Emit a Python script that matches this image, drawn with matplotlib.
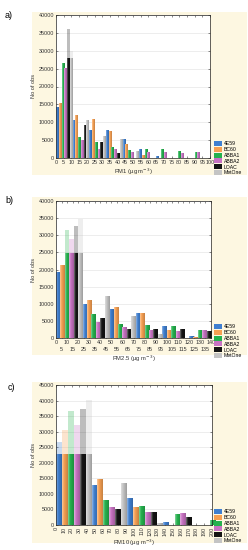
import numpy as np
import matplotlib
matplotlib.use("Agg")
import matplotlib.pyplot as plt
from matplotlib.patches import Patch, Rectangle
from matplotlib.colors import to_rgb

plt.rcParams['font.family'] = ['Liberation Sans', 'DejaVu Sans']

series = ['4E59', 'BC60', 'ABBA1', 'ABBA2', 'LOAC', 'MetOne']
colors = ['#3f7fd0', '#f7a052', '#25b24e', '#c873c3', '#141414', '#c4c4c4']

# PM1 panel (a)
pm1_4E59 = [14400, 10500, 7900, 7900, 5200, 2600, 500, 0, 0]
pm1_BC60 = [15500, 12100, 10900, 7500, 4000, 900, 100, 0, 0]
pm1_ABBA1 = [26700, 6000, 4400, 3200, 2300, 2400, 2400, 2000, 1800]
pm1_ABBA2 = [25200, 5100, 2600, 2400, 1600, 1600, 1600, 1500, 1800]
pm1_LOAC = [36000, 9200, 4400, 1500, 100, 0, 0, 0, 0]
pm1_MetOne = [30000, 10500, 6200, 5400, 1900, 0, 0, 0, 0]

# PM2.5 panel (b)
pm25_4E59 = [19200, 10000, 8500, 7300, 3600, 700]
pm25_BC60 = [21300, 11100, 9000, 7300, 2400, 300]
pm25_ABBA1 = [31400, 7000, 4100, 3900, 3500, 2400]
pm25_ABBA2 = [28800, 4700, 3200, 2200, 2100, 2200]
pm25_LOAC = [32800, 5800, 2700, 2600, 2600, 1900]
pm25_MetOne = [34600, 12300, 6500, 1300, 100, 0]

# PM10 panel (c)
pm10_4E59 = [26700, 12900, 8700, 1100, 100]
pm10_BC60 = [30500, 14700, 5800, 100, 100]
pm10_ABBA1 = [36500, 8000, 6100, 3500, 1500]
pm10_ABBA2 = [32000, 5800, 4300, 4000, 0]
pm10_LOAC = [37300, 5100, 4200, 2700, 0]
pm10_MetOne = [40200, 13600, 750, 0, 0]

panels = [
    dict(label='a)', data=[pm1_4E59, pm1_BC60, pm1_ABBA1, pm1_ABBA2, pm1_LOAC, pm1_MetOne],
         cut=28000, width=1.8, xmax=100, ymax=40000, xlabel='PM1 (µg m$^{-3}$)',
         bg=(32, 12, 247, 175), ax=(56, 15, 210, 158), leg=(214, 141), lab=(5, 11)),
    dict(label='b)', data=[pm25_4E59, pm25_BC60, pm25_ABBA1, pm25_ABBA2, pm25_LOAC, pm25_MetOne],
         cut=24700, width=4.0, xmax=140, ymax=40000, xlabel='PM2.5 (µg m$^{-3}$)',
         bg=(32, 197, 247, 355), ax=(56, 201, 211, 338), leg=(214, 324), lab=(5, 196)),
    dict(label='c)', data=[pm10_4E59, pm10_BC60, pm10_ABBA1, pm10_ABBA2, pm10_LOAC, pm10_MetOne],
         cut=22700, width=7.6, xmax=200, ymax=45000, xlabel='PM10 (µg m$^{-3}$)',
         bg=(32, 382, 247, 543), ax=(56, 385, 212, 525), leg=(214, 509), lab=(8, 383)),
]

W, H = 248, 550
fig = plt.figure(figsize=(W / 100, H / 100), dpi=100)
fig.patch.set_facecolor('white')

def fx(px):
    return px / W

def fy(py):
    return 1 - py / H

grad = np.linspace(0, 1, 64)[None, :]

for p in panels:
    x0, y0, x1, y1 = p['bg']
    fig.add_artist(Rectangle((fx(x0), fy(y1)), fx(x1 - x0), (y1 - y0) / H,
                             transform=fig.transFigure, facecolor='#fdf7e1',
                             edgecolor='none', zorder=0))
    a0, b0, a1, b1 = p['ax']
    ax = fig.add_axes([fx(a0), fy(b1), fx(a1 - a0), (b1 - b0) / H])
    ax.set_facecolor('white')
    w = p['width']
    cut = p['cut']
    ng = len(p['data'][0])
    for s, (vals, col) in enumerate(zip(p['data'], colors)):
        vals = np.array(vals, dtype=float)
        xs = (np.arange(ng) * 6 + s) * w
        solid = np.minimum(vals, cut)
        bars = ax.bar(xs, solid, width=w, align='edge', color=col,
                      edgecolor='none', zorder=2)
        # subtle horizontal shading on each bar
        rgb = np.array(to_rgb(col))
        light = rgb + (1 - rgb) * 0.45
        dark = rgb * 0.8
        t = grad[0]
        img = np.where(t[:, None] < 0.35,
                       light + (rgb - light) * (t[:, None] / 0.35),
                       rgb + (dark - rgb) * ((t[:, None] - 0.35) / 0.65))
        img = img[None, :, :]
        for bar in bars:
            if bar.get_height() <= 0:
                continue
            bx, bw, bh = bar.get_x(), bar.get_width(), bar.get_height()
            im = ax.imshow(img, extent=(bx, bx + bw, 0, bh), aspect='auto',
                           interpolation='bilinear', zorder=2.5)
            im.set_clip_path(bar)
        over = vals > cut
        ax.bar(xs[over], (vals - cut)[over], bottom=cut, width=w, align='edge',
               color=col, alpha=0.28, edgecolor='none', zorder=2)
    ax.set_xlim(0, p['xmax'])
    ax.set_ylim(0, p['ymax'])
    ax.set_yticks(np.arange(0, p['ymax'] + 1, 5000))
    ax.set_yticklabels([str(v) for v in range(0, p['ymax'] + 1, 5000)])
    ax.grid(axis='y', color='#e6e6e6', linewidth=0.5, zorder=0)
    ax.set_axisbelow(True)
    for sp in ax.spines.values():
        sp.set_linewidth(0.5)
        sp.set_color('#222222')
    ax.tick_params(axis='both', which='both', direction='in', length=1.5, width=0.4,
                   labelsize=3.9, pad=1.2, top=True, right=True, colors='#333333')
    if p['label'] == 'a)':
        ax.set_xticks(np.arange(0, 101, 5))
        ax.set_xticklabels([str(v) for v in range(0, 101, 5)])
    elif p['label'] == 'b)':
        ax.set_xticks(np.arange(0, 141, 10))
        ax.set_xticklabels([str(v) for v in range(0, 141, 10)])
        ax.set_xticks(np.arange(5, 140, 10), minor=True)
        ax.set_xticklabels([str(v) for v in range(5, 140, 10)], minor=True)
        ax.tick_params(axis='x', which='minor', pad=6.2)
    else:
        ax.set_xticks(np.arange(0, 201, 10))
        ax.set_xticklabels([str(v) for v in range(0, 201, 10)], rotation=90)
    ax.set_ylabel('No of obs', fontsize=4.0, labelpad=2, color='#333333')
    ax.set_xlabel(p['xlabel'], fontsize=4.2, labelpad=1.5, color='#333333')
    fig.text(fx(p['lab'][0]), fy(p['lab'][1]), p['label'], fontsize=6.5,
             va='top', ha='left')
    handles = [Patch(facecolor=c, edgecolor='none') for c in colors]
    lx, ly = p['leg']
    fig.legend(handles, series, loc='upper left',
               bbox_to_anchor=(fx(lx), fy(ly)), frameon=False, fontsize=3.7,
               handlelength=1.5, handleheight=1.1, handletextpad=0.4,
               labelspacing=0.12, borderpad=0, borderaxespad=0)

fig.savefig('out.png', dpi=100, facecolor='white')
